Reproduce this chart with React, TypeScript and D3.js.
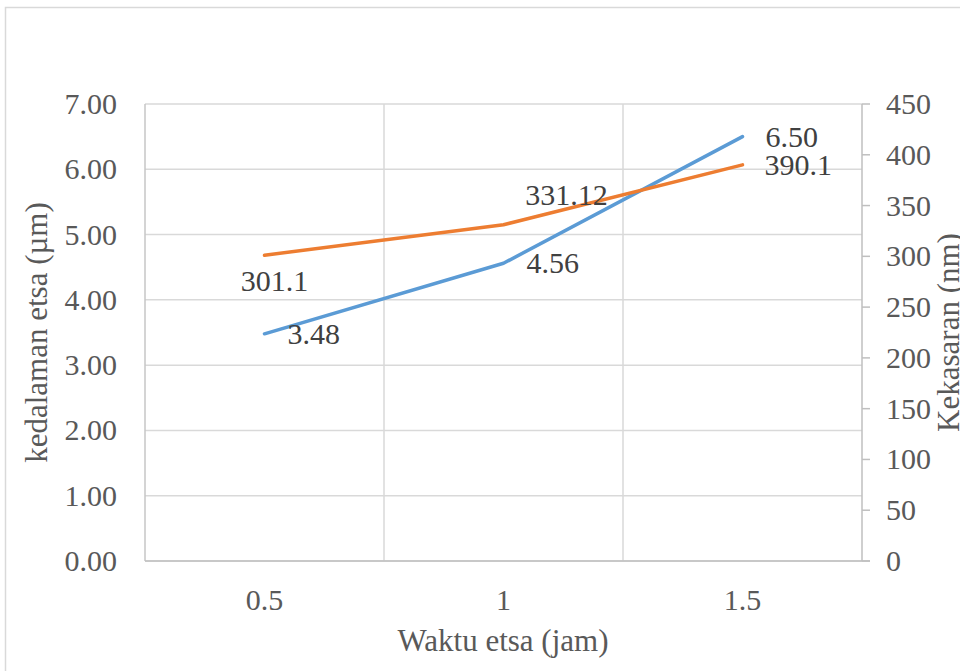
import React from "react";
import * as d3 from "d3";

const categories = ["0.5", "1", "1.5"];
const depthValues = [3.48, 4.56, 6.5];
const depthLabels = ["3.48", "4.56", "6.50"];
const roughValues = [301.1, 331.12, 390.1];
const roughLabels = ["301.1", "331.12", "390.1"];
const leftTicks = [0, 1, 2, 3, 4, 5, 6, 7];
const rightTicks = [0, 50, 100, 150, 200, 250, 300, 350, 400, 450];

const W = 960;
const H = 671;
const M = { left: 145, right: 862, top: 104, bottom: 561 };
const FONT = '"Liberation Serif", "Times New Roman", Tinos, "DejaVu Serif", serif';

// label placement offsets (styling only)
const depthOffsets = [
  { dx: 23, dy: 10, anchor: "start" },
  { dx: 23, dy: 10, anchor: "start" },
  { dx: 23, dy: 10, anchor: "start" },
];
const roughOffsets = [
  { dx: 10, dy: 36, anchor: "middle" },
  { dx: 63, dy: -20, anchor: "middle" },
  { dx: 22, dy: 10, anchor: "start" },
];

export default function App() {
  const x = d3.scaleBand<string>().domain(categories).range([M.left, M.right]).padding(0);
  const yL = d3.scaleLinear().domain([0, 7]).range([M.bottom, M.top]);
  const yR = d3.scaleLinear().domain([0, 450]).range([M.bottom, M.top]);
  const cx = (c: string) => (x(c) as number) + x.bandwidth() / 2;

  const lineL = d3
    .line<number>()
    .x((_, i) => cx(categories[i]))
    .y((d) => yL(d));
  const lineR = d3
    .line<number>()
    .x((_, i) => cx(categories[i]))
    .y((d) => yR(d));

  const boundaries = categories.map((c) => x(c) as number).slice(1);
  const ts = { fontFamily: FONT };

  return (
    <svg
      width={W}
      height={H}
      style={{ position: "absolute", left: 0, top: 0, background: "#fff", fontFamily: FONT }}
    >
      <rect x={5.5} y={7.5} width={W + 20} height={H + 20} fill="#fff" stroke="#d9d9d9" strokeWidth={1.5} />
      {leftTicks.map((t) => (
        <line key={"g" + t} x1={M.left} x2={M.right} y1={yL(t)} y2={yL(t)} stroke="#d9d9d9" strokeWidth={1.5} />
      ))}
      {boundaries.map((b, i) => (
        <line key={"v" + i} x1={b} x2={b} y1={M.top} y2={M.bottom} stroke="#d9d9d9" strokeWidth={1.5} />
      ))}
      <line x1={M.left} x2={M.left} y1={M.top} y2={M.bottom} stroke="#c6c6c6" strokeWidth={1.5} />
      <line x1={M.right} x2={M.right} y1={M.top} y2={M.bottom} stroke="#bfbfbf" strokeWidth={1.5} />
      {rightTicks.map((t) => (
        <line key={"rt" + t} x1={M.right} x2={M.right + 8} y1={yR(t)} y2={yR(t)} stroke="#bfbfbf" strokeWidth={1.5} />
      ))}
      <line x1={M.left} x2={M.right + 8} y1={M.bottom} y2={M.bottom} stroke="#bfbfbf" strokeWidth={1.5} />

      {leftTicks.map((t) => (
        <text key={"lt" + t} style={ts} x={117} y={yL(t) + 10} textAnchor="end" fontSize={30} fill="#595959">
          {d3.format(".2f")(t)}
        </text>
      ))}
      {rightTicks.map((t) => (
        <text key={"rl" + t} style={ts} x={886} y={yR(t) + 10} textAnchor="start" fontSize={30} fill="#595959">
          {t}
        </text>
      ))}
      {categories.map((c) => (
        <text key={"xc" + c} style={ts} x={cx(c)} y={610} textAnchor="middle" fontSize={30} fill="#595959">
          {c}
        </text>
      ))}
      <text style={ts} x={503} y={651} textAnchor="middle" fontSize={31} fill="#595959">
        Waktu etsa (jam)
      </text>
      <text
        style={ts}
        transform={`translate(47, ${(M.top + M.bottom) / 2}) rotate(-90)`}
        textAnchor="middle"
        fontSize={31}
        fill="#595959"
      >
        kedalaman etsa (µm)
      </text>
      <text
        style={ts}
        transform={`translate(959, ${(M.top + M.bottom) / 2}) rotate(-90)`}
        textAnchor="middle"
        fontSize={31}
        fill="#595959"
      >
        Kekasaran (nm)
      </text>

      <path d={lineL(depthValues) || ""} fill="none" stroke="#5b9bd5" strokeWidth={3.5} strokeLinecap="round" strokeLinejoin="round" />
      <path d={lineR(roughValues) || ""} fill="none" stroke="#ed7d31" strokeWidth={3.5} strokeLinecap="round" strokeLinejoin="round" />

      {depthValues.map((v, i) => (
        <text
          key={"dl" + i}
          style={ts}
          x={cx(categories[i]) + depthOffsets[i].dx}
          y={yL(v) + depthOffsets[i].dy}
          textAnchor={depthOffsets[i].anchor as any}
          fontSize={30}
          fill="#404040"
        >
          {depthLabels[i]}
        </text>
      ))}
      {roughValues.map((v, i) => (
        <text
          key={"rl2" + i}
          style={ts}
          x={cx(categories[i]) + roughOffsets[i].dx}
          y={yR(v) + roughOffsets[i].dy}
          textAnchor={roughOffsets[i].anchor as any}
          fontSize={30}
          fill="#404040"
        >
          {roughLabels[i]}
        </text>
      ))}
    </svg>
  );
}
